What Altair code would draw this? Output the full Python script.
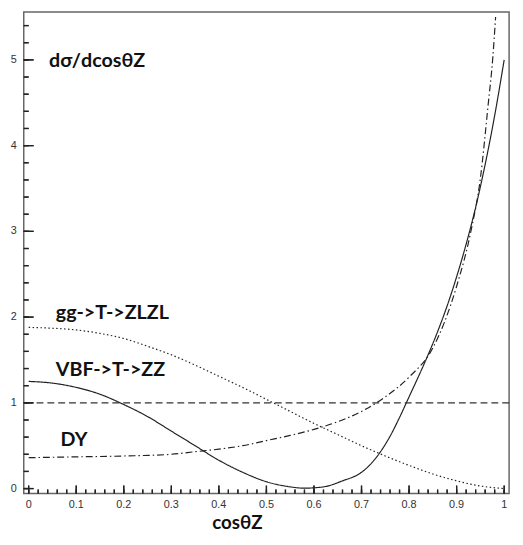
import altair as alt
import pandas as pd

# ---- data ----
VBF_X = [0, 0.05, 0.1, 0.15, 0.2, 0.25, 0.3, 0.35, 0.4, 0.45, 0.5, 0.55, 0.58, 0.62, 0.66,
         0.7, 0.72, 0.74, 0.76, 0.78, 0.8, 0.82, 0.84, 0.86, 0.88, 0.9, 0.92, 0.94, 0.96, 0.98, 1.0]
VBF_Y = [1.25, 1.23, 1.18, 1.10, 0.98, 0.84, 0.67, 0.50, 0.33, 0.19, 0.08, 0.02, 0.005, 0.02, 0.09,
         0.19, 0.29, 0.43, 0.61, 0.83, 1.07, 1.31, 1.56, 1.83, 2.13, 2.47, 2.85, 3.28, 3.78, 4.35, 5.0]

GG_X = [0, 0.05, 0.1, 0.15, 0.2, 0.25, 0.3, 0.35, 0.4, 0.45, 0.5, 0.55, 0.6, 0.65, 0.7,
        0.75, 0.8, 0.85, 0.9, 0.95, 1.0]
GG_Y = [1.88, 1.87, 1.85, 1.81, 1.75, 1.66, 1.56, 1.44, 1.31, 1.18, 1.04, 0.90, 0.76, 0.63, 0.50,
        0.38, 0.27, 0.17, 0.09, 0.03, 0.0]

DY_X = [0, 0.1, 0.2, 0.3, 0.35, 0.4, 0.45, 0.5, 0.55, 0.6, 0.65, 0.7, 0.75, 0.8, 0.85, 0.9,
        0.93, 0.95, 0.966, 0.976, 0.982]
DY_Y = [0.36, 0.37, 0.38, 0.40, 0.43, 0.46, 0.50, 0.56, 0.62, 0.69, 0.78, 0.90, 1.07, 1.30, 1.64, 2.36,
        3.0, 3.62, 4.46, 5.02, 5.5]

SERIES = ["VBF->T->ZZ", "gg->T->ZLZL", "DY"]
REF_LEVEL = [1.0]

LABELS = ["dσ/dcosθZ", "gg->T->ZLZL", "VBF->T->ZZ", "DY"]
LABEL_X = [0.043, 0.057, 0.057, 0.067]
LABEL_Y = [4.99, 2.05, 1.38, 0.57]

X_TITLE = ["cosθZ"]
X_MAJOR = [round(i * 0.1, 2) for i in range(11)]
X_LABELS = ["0", "0.1", "0.2", "0.3", "0.4", "0.5", "0.6", "0.7", "0.8", "0.9", "1"]
X_MINOR = [round(i * 0.02, 2) for i in range(51)]
Y_MAJOR = [0, 1, 2, 3, 4, 5]
Y_LABELS = ["0", "1", "2", "3", "4", "5"]
Y_MINOR = [round(i * 0.2, 2) for i in range(28)]
YMAX = 5.5

rows = []
for name, xs, ys in zip(SERIES, [VBF_X, GG_X, DY_X], [VBF_Y, GG_Y, DY_Y]):
    for a, b in zip(xs, ys):
        rows.append({"x": a, "y": b, "series": name})
df = pd.DataFrame(rows)
ann = pd.DataFrame({"x": LABEL_X, "y": LABEL_Y, "label": LABELS})
ref = pd.DataFrame({"y": REF_LEVEL})
xt_major = pd.DataFrame({"x": X_MAJOR})
xt_minor = pd.DataFrame({"x": X_MINOR})
yt_major = pd.DataFrame({"y": Y_MAJOR})
yt_minor = pd.DataFrame({"y": Y_MINOR})
xl_major = pd.DataFrame({"xv": X_MAJOR, "label": X_LABELS})
yl_major = pd.DataFrame({"yv": Y_MAJOR, "label": Y_LABELS})
xtitle = pd.DataFrame({"label": X_TITLE})

W, H = 493, 489
xs_ = alt.Scale(domain=[0, 1], nice=False, zero=False)
ys_ = alt.Scale(domain=[0, YMAX], nice=False)


def X(field="x"):
    return alt.X(f"{field}:Q", scale=xs_, axis=None)


def Y(field="y"):
    return alt.Y(f"{field}:Q", scale=ys_, axis=None)


lines = alt.Chart(df).mark_line(color="#222", strokeWidth=1.2, clip=True,
                                interpolate="monotone").encode(
    x=X(), y=Y(),
    detail="series:N",
    strokeDash=alt.StrokeDash("series:N", scale=alt.Scale(
        domain=SERIES, range=[[1, 0], [1.5, 2.5], [7, 3, 1.5, 3]]), legend=None),
)

refline = alt.Chart(ref).mark_rule(color="#333", strokeWidth=1.2, strokeDash=[7, 4]).encode(
    y=Y()
)

texts = alt.Chart(ann).mark_text(align="left", baseline="middle", font="Lato",
                                 fontWeight="bold", fontSize=20, color="#111").encode(
    x=X(), y=Y(), text="label:N",
)

# tick labels and axis title
LBL = dict(font="Liberation Sans", fontSize=11, color="#333")
xlab = alt.Chart(xl_major).mark_text(align="center", baseline="top", **LBL).encode(
    x=X("xv"), y=alt.value(H + 6), text="label:N")
ylab = alt.Chart(yl_major).mark_text(align="right", baseline="middle", **LBL).encode(
    y=Y("yv"), x=alt.value(-7), text="label:N")
title = alt.Chart(xtitle).mark_text(align="center", baseline="alphabetic", font="Lato",
                                    fontWeight="bold", fontSize=19, color="#111").encode(
    x=alt.value(217), y=alt.value(H + 36), text="label:N")

# inward axis ticks: thin filled bars and rules from the axis line into the plot
TICK = dict(color="#222", strokeWidth=1.3)
BAR = dict(color="#222", size=1.3)
xmaj = alt.Chart(xt_major).mark_rule(**TICK).encode(
    x=X(), y=alt.value(H), y2=alt.value(H - 8))
xmin = alt.Chart(xt_minor).mark_rule(**TICK).encode(
    x=X(), y=alt.value(H), y2=alt.value(H - 4))
ymaj = alt.Chart(yt_major).mark_rule(**TICK).encode(
    y=Y(), x=alt.value(0), x2=alt.value(10))
ymin = alt.Chart(yt_minor).mark_rule(**TICK).encode(
    y=Y(), x=alt.value(0), x2=alt.value(5))
bxmaj = alt.Chart(xt_major).mark_bar(**BAR).encode(
    x=X(), y=alt.value(H), y2=alt.value(H - 8))
bxmin = alt.Chart(xt_minor).mark_bar(**BAR).encode(
    x=X(), y=alt.value(H), y2=alt.value(H - 4))
bymaj = alt.Chart(yt_major).mark_bar(orient="horizontal", **BAR).encode(
    y=Y(), x=alt.value(0), x2=alt.value(10))
bymin = alt.Chart(yt_minor).mark_bar(orient="horizontal", **BAR).encode(
    y=Y(), x=alt.value(0), x2=alt.value(5))

chart = alt.layer(lines, refline, texts, xlab, ylab, title,
                  xmaj, xmin, ymaj, ymin, bxmaj, bxmin, bymaj, bymin).properties(
    width=W, height=H,
    padding={"left": 16, "top": 0, "right": 6, "bottom": 38},
    autosize=alt.AutoSizeParams(type="none"),
).configure_view(
    stroke="#666", strokeWidth=1.5
)

chart.save("out.html", embed_options={"renderer": "svg", "actions": False})
